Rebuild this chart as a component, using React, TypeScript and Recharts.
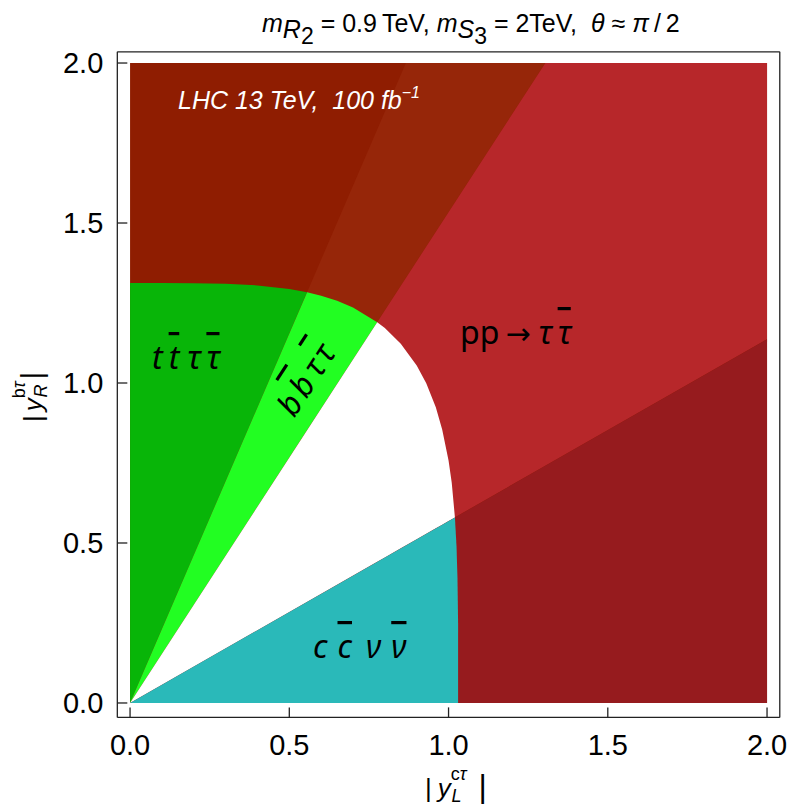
import React from "react";
import { ComposedChart, Area, XAxis, YAxis } from "recharts";

const W = 792;
const H = 806;

// axis ranges; the shaded square itself covers 0..2 on both axes
const X_DOMAIN: [number, number] = [-0.04, 2.04];
const Y_DOMAIN: [number, number] = [-0.045, 2.035];
const majorTicks = [0, 0.5, 1, 1.5, 2];
const minorTicks = [0.1, 0.2, 0.3, 0.4, 0.6, 0.7, 0.8, 0.9, 1.1, 1.2, 1.3, 1.4, 1.6, 1.7, 1.8, 1.9];

// pp -> tau tau-bar exclusion edge, as (|y_L^ct|, |y_R^bt|) pairs
const edgeX = [0, 0.1, 0.2, 0.3, 0.4, 0.5, 0.556, 0.6, 0.65, 0.7, 0.776, 0.8, 0.85, 0.9, 0.93, 0.96, 0.98, 1.0, 1.01, 1.02, 1.025, 1.028, 1.03, 1.03];
const edgeY = [1.3125, 1.3125, 1.312, 1.31, 1.305, 1.294, 1.284, 1.273, 1.257, 1.236, 1.19, 1.172, 1.123, 1.055, 0.999, 0.924, 0.855, 0.758, 0.688, 0.58, 0.49, 0.393, 0.25, 0];

// channel dividers are straight lines from the origin; where they leave the square
const ttBbTopX = 0.866; // tt|bb divider, at y = 2
const bbMidTopX = 1.304; // bb|white divider, at y = 2
const midCcRightY = 1.137; // white|cc divider, at x = 2
// indices of the edge points the dividers pass through
const ttBbCross = 6;
const bbMidCross = 10;
const midCcCross = 19;

const colors = {
  ttOut: "#8f1d01",
  bbOut: "#962609",
  midOut: "#b7272a",
  ccOut: "#961b1e",
  ttIn: "#08b508",
  bbIn: "#22fe22",
  midIn: "#ffffff",
  ccIn: "#2ab9b9",
};

type Row = { x: number; lo: number; hi: number };

const kTtBb = 2 / ttBbTopX;
const kBbMid = 2 / bbMidTopX;
const kMidCc = midCcRightY / 2;

const edgeRows = (from: number, to: number, lower: (x: number) => number): Row[] =>
  edgeX.slice(from, to + 1).map((x, i) => ({ x, lo: lower(x), hi: edgeY[from + i] }));

const origin: Row = { x: 0, lo: 0, hi: 0 };

// outside the edge (excluded by pp -> tau tau)
const ttOut: Row[] = [
  { x: 0, lo: 0, hi: 2 },
  { x: 2, lo: 0, hi: 2 },
];
const bbOut: Row[] = [origin, { x: ttBbTopX, lo: kBbMid * ttBbTopX, hi: 2 }, { x: bbMidTopX, lo: 2, hi: 2 }];
const midOut: Row[] = [origin, { x: bbMidTopX, lo: kMidCc * bbMidTopX, hi: 2 }, { x: 2, lo: midCcRightY, hi: 2 }];
const ccOut: Row[] = [origin, { x: 2, lo: 0, hi: midCcRightY }];

// inside the edge, split by channel
const ttIn = edgeRows(0, ttBbCross, (x) => kTtBb * x);
const bbIn = [origin, ...edgeRows(ttBbCross, bbMidCross, (x) => kBbMid * x)];
const midIn = [origin, ...edgeRows(bbMidCross, midCcCross, (x) => kMidCc * x)];
const ccIn = [origin, ...edgeRows(midCcCross, edgeX.length - 1, () => 0)];

const layers = [
  { id: "ttOut", rows: ttOut, fill: colors.ttOut },
  { id: "bbOut", rows: bbOut, fill: colors.bbOut },
  { id: "midOut", rows: midOut, fill: colors.midOut },
  { id: "ccOut", rows: ccOut, fill: colors.ccOut },
  { id: "ttIn", rows: ttIn, fill: colors.ttIn },
  { id: "bbIn", rows: bbIn, fill: colors.bbIn },
  { id: "midIn", rows: midIn, fill: colors.midIn },
  { id: "ccIn", rows: ccIn, fill: colors.ccIn },
];

const range = (d: Row) => [d.lo, d.hi];

const sans = "Liberation Sans, Arial, sans-serif";
const labelFont = "Noto Sans, sans-serif";
const tickFont = { fill: "#000", fontSize: 29, fontFamily: sans };
const frame = { stroke: "#222", strokeWidth: 1.3 };
const thin = 0.01; // axes need a non-zero box to be drawn

// overbarred symbol (t-bar, tau-bar, ...)
const Barred = ({ s, dx }: { s: string; dx?: number }) => (
  <tspan dx={dx} style={{ textDecoration: "overline" }}>
    {s}
  </tspan>
);

export default function App() {
  return (
    <div style={{ position: "absolute", left: 0, top: 0, width: W, height: H, background: "#fff" }}>
      <ComposedChart width={W} height={H} margin={{ top: 51.8, right: 12.2, bottom: 88.6, left: 117.3 }}>
        <XAxis
          xAxisId="b"
          type="number"
          dataKey="x"
          orientation="bottom"
          domain={X_DOMAIN}
          ticks={majorTicks}
          tickFormatter={(v: number) => v.toFixed(1)}
          height={thin}
          tickSize={-10}
          tickMargin={27}
          tick={tickFont}
          tickLine={frame}
          axisLine={frame}
        />
        <XAxis xAxisId="bm" type="number" dataKey="x" orientation="bottom" domain={X_DOMAIN} ticks={minorTicks}
          height={thin} tickSize={-5} tick={false} tickLine={frame} axisLine={false} />
        <XAxis xAxisId="t" type="number" dataKey="x" orientation="top" domain={X_DOMAIN} ticks={majorTicks}
          height={thin} tickSize={-10} tick={false} tickLine={frame} axisLine={frame} />
        <XAxis xAxisId="tm" type="number" dataKey="x" orientation="top" domain={X_DOMAIN} ticks={minorTicks}
          height={thin} tickSize={-5} tick={false} tickLine={frame} axisLine={false} />
        <YAxis
          yAxisId="l"
          type="number"
          orientation="left"
          domain={Y_DOMAIN}
          ticks={majorTicks}
          tickFormatter={(v: number) => v.toFixed(1)}
          width={thin}
          tickSize={-10}
          tickMargin={24}
          tick={tickFont}
          tickLine={frame}
          axisLine={frame}
        />
        <YAxis yAxisId="lm" type="number" orientation="left" domain={Y_DOMAIN} ticks={minorTicks}
          width={thin} tickSize={-5} tick={false} tickLine={frame} axisLine={false} />
        <YAxis yAxisId="r" type="number" orientation="right" domain={Y_DOMAIN} ticks={majorTicks}
          width={thin} tickSize={-10} tick={false} tickLine={frame} axisLine={frame} />
        <YAxis yAxisId="rm" type="number" orientation="right" domain={Y_DOMAIN} ticks={minorTicks}
          width={thin} tickSize={-5} tick={false} tickLine={frame} axisLine={false} />
        {layers.map((l) => (
          <Area
            key={l.id}
            name={l.id}
            data={l.rows}
            dataKey={range}
            xAxisId="b"
            yAxisId="l"
            type="linear"
            stroke="none"
            fill={l.fill}
            fillOpacity={1}
            dot={false}
            activeDot={false}
            isAnimationActive={false}
          />
        ))}
      </ComposedChart>

      <svg width={W} height={H} style={{ position: "absolute", left: 0, top: 0, pointerEvents: "none" }}>
        {/* title */}
        <text x={262} y={32} fontSize={25} fontFamily={sans} fill="#000" style={{ whiteSpace: "pre" }}>
          <tspan fontStyle="italic">m</tspan>
          <tspan fontStyle="italic" dy={6}>R</tspan>
          <tspan fontSize={23} dy={6}>2</tspan>
          <tspan dy={-12}>{" = 0.9\u2009TeV, "}</tspan>
          <tspan fontStyle="italic">m</tspan>
          <tspan fontStyle="italic" dy={6}>S</tspan>
          <tspan fontSize={23} dy={6}>3</tspan>
          <tspan dy={-12}>{" = 2TeV,  "}</tspan>
          <tspan fontStyle="italic">{"\u03b8"}</tspan>
          <tspan>{" \u2248 "}</tspan>
          <tspan fontStyle="italic">{"\u03c0"}</tspan>
          <tspan>{"\u2009/\u20092"}</tspan>
        </text>

        {/* axis titles */}
        <text x={425} y={797} fontSize={26} fontFamily={sans} fill="#000">
          <tspan>|</tspan>
          <tspan dx={6} fontStyle="italic">y</tspan>
          <tspan dy={-17} fontSize={18}>c</tspan>
          <tspan fontSize={18} fontStyle="italic">{"\u03c4"}</tspan>
          <tspan dx={-15} dy={22} fontSize={18} fontStyle="italic">L</tspan>
          <tspan dx={17} dy={-5} fontSize={32}>|</tspan>
        </text>
        <text transform="translate(42,422) rotate(-90)" fontSize={26} fontFamily={sans} fill="#000">
          <tspan>|</tspan>
          <tspan dx={4} fontStyle="italic">y</tspan>
          <tspan dy={-17} fontSize={18}>b</tspan>
          <tspan fontSize={18} fontStyle="italic">{"\u03c4"}</tspan>
          <tspan dx={-16} dy={22} fontSize={18} fontStyle="italic">R</tspan>
          <tspan dx={5} dy={-5} fontSize={30}>|</tspan>
        </text>

        {/* channel labels */}
        <text x={178} y={109} fontSize={25} fontStyle="italic" fontFamily={sans} fill="#fff" style={{ whiteSpace: "pre" }}>
          <tspan>{"LHC 13 TeV,  100 fb"}</tspan>
          <tspan fontSize={16} dy={-11}>{"\u22121"}</tspan>
        </text>
        <text x={152} y={369} fontSize={32} fontStyle="italic" fontFamily={labelFont} fill="#000">
          <tspan>t</tspan>
          <Barred dx={6} s="t" />
          <tspan dx={8}>{"\u03c4"}</tspan>
          <Barred dx={6} s={"\u03c4"} />
        </text>
        <text transform="translate(306,380) rotate(-57)" textAnchor="middle" y={11} fontSize={32} fontStyle="italic" fontFamily={labelFont} fill="#000">
          <tspan>b</tspan>
          <Barred dx={4} s="b" />
          <tspan dx={6}>{"\u03c4"}</tspan>
          <Barred dx={4} s={"\u03c4"} />
        </text>
        <text x={460} y={344} fontSize={32} fontFamily={labelFont} fill="#000">
          <tspan>pp</tspan>
          <tspan dx={6} fontFamily="DejaVu Sans, sans-serif" fontSize={30}>{"\u2192"}</tspan>
          <tspan dx={8} fontStyle="italic">{"\u03c4"}</tspan>
          <tspan fontStyle="italic">
            <Barred dx={6} s={"\u03c4"} />
          </tspan>
        </text>
        <text x={313} y={658} fontSize={32} fontStyle="italic" fontFamily={labelFont} fill="#000">
          <tspan>c</tspan>
          <Barred dx={10} s="c" />
          <tspan dx={14}>{"\u03bd"}</tspan>
          <Barred dx={10} s={"\u03bd"} />
        </text>
      </svg>
    </div>
  );
}
